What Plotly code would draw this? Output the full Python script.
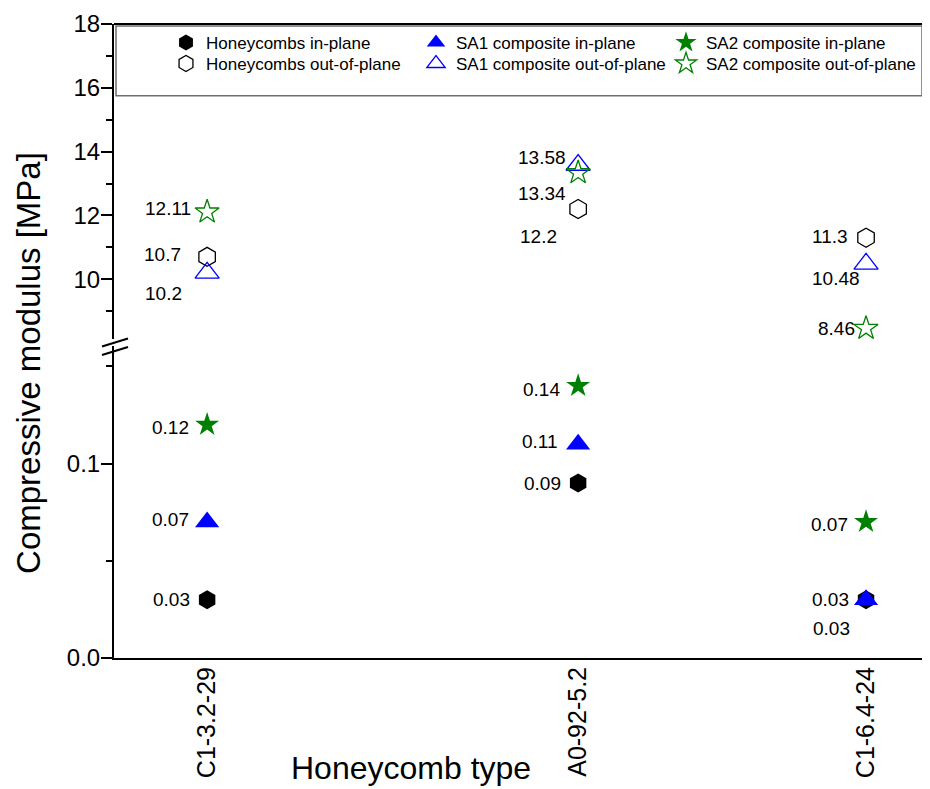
import plotly.graph_objects as go

# ---------------- data ----------------
categories = ["C1-3.2-29", "A0-92-5.2", "C1-6.4-24"]
x_pos = [1.0, 2.0, 2.776]          # category positions along the x axis

hc_in = [0.03, 0.09, 0.03]
sa1_in = [0.07, 0.11, 0.03]
sa2_in = [0.12, 0.14, 0.07]
hc_out = [10.7, 12.2, 11.3]
sa1_out = [10.2, 13.58, 10.48]
sa2_out = [12.11, 13.34, 8.46]

lower_ticks = [0.0, 0.1]
lower_minor = [0.05, 0.15]
upper_ticks = [10, 12, 14, 16, 18]

series_names = [
    "Honeycombs in-plane", "SA1 composite in-plane", "SA2 composite in-plane",
    "Honeycombs out-of-plane", "SA1 composite out-of-plane", "SA2 composite out-of-plane",
]
series_values = [hc_in, sa1_in, sa2_in, hc_out, sa1_out, sa2_out]

# ---------------- styles ----------------
FONT = "Liberation Sans, Arial, sans-serif"
GREEN = "#008000"
styles = [
    dict(symbol="hexagon", color="black", size=19, axis="y", legend="legend"),
    dict(symbol="triangle-up", color="#0000ff", size=21, axis="y", legend="legend"),
    dict(symbol="star", color=GREEN, size=18, axis="y", legend="legend"),
    dict(symbol="hexagon-open", color="black", size=19, axis="y2", legend="legend2"),
    dict(symbol="triangle-up-open", color="#0000ff", size=21, axis="y2", legend="legend2"),
    dict(symbol="star-open", color=GREEN, size=18, axis="y2", legend="legend2"),
]
# label pixel offsets (dx, dy) relative to each marker, text right-aligned
label_offsets = [
    [(-15, 0), (-15, 0), (-14, -29)],
    [(-16, 2), (-18, 3), (-15, 0)],
    [(-16, -3), (-16, -4), (-16, -3)],
    [(-24, 2), (-19, -27), (-16, 1)],
    [(-23, -21), (-10, 8), (-4, -15)],
    [(-14, 3), (-10, -21), (-9, 0)],
]

fig = go.Figure()
for name, vals, st in zip(series_names, series_values, styles):
    open_ = st["symbol"].endswith("open")
    fig.add_trace(go.Scatter(
        x=x_pos, y=vals, name=name, mode="markers", yaxis=st["axis"],
        cliponaxis=False, legend=st["legend"],
        marker=dict(symbol=st["symbol"], size=st["size"], color=st["color"],
                    line=dict(color=st["color"], width=1.3 if open_ else 0)),
    ))

annotations = []
for vals, st, offs in zip(series_values, styles, label_offsets):
    for xv, yv, (dx, dy) in zip(x_pos, vals, offs):
        annotations.append(dict(
            x=xv, y=yv, xref="x", yref=st["axis"], text=f"{yv:g}",
            showarrow=False, xanchor="right", yanchor="middle",
            xshift=dx, yshift=dy, font=dict(family=FONT, size=19, color="black"),
        ))

# page offset: the html body adds an 8px margin
OFF = 8
W, H = 930 - OFF, 789 - OFF
ML, MR, MT, MB = 114 - OFF, 2, 22 - OFF, 131
PW, PH = W - ML - MR, H - MT - MB


def py(pix):
    return (658 - pix) / PH


def px(pix):
    return (pix - 114) / PW


# axis titles
annotations.append(dict(text="Compressive modulus [MPa]", textangle=-90,
                        xref="paper", yref="paper", x=px(29), y=py(362),
                        showarrow=False, xanchor="center", yanchor="middle",
                        font=dict(family=FONT, size=33, color="black")))
annotations.append(dict(text="Honeycomb type", xref="paper", yref="paper",
                        x=px(411), y=py(768), showarrow=False,
                        xanchor="center", yanchor="middle",
                        font=dict(family=FONT, size=32, color="black")))

lower_top = py(345)
upper_bot = py(338)

shapes = [
    # top frame line
    dict(type="line", xref="paper", yref="paper", x0=0, x1=1.003, y0=1, y1=1,
         line=dict(color="black", width=2)),
    # legend box
    dict(type="rect", xref="paper", yref="paper", x0=px(116), x1=px(922),
         y0=py(94), y1=py(24), line=dict(color="#6e6e6e", width=1.5),
         fillcolor="rgba(0,0,0,0)"),
    # axis break slashes
    dict(type="line", xref="paper", yref="paper", xsizemode="pixel", xanchor=0,
         ysizemode="pixel", yanchor=py(341.5), x0=-12, x1=14, y0=-4, y1=4,
         line=dict(color="black", width=2)),
    dict(type="line", xref="paper", yref="paper", xsizemode="pixel", xanchor=0,
         ysizemode="pixel", yanchor=py(350), x0=-12, x1=14, y0=-4, y1=4,
         line=dict(color="black", width=2)),
]

legend_common = dict(orientation="h", xanchor="left", yanchor="top",
                     entrywidth=205, font=dict(family=FONT, size=17, color="black"),
                     bgcolor="rgba(0,0,0,0)", borderwidth=0)

tickfont = dict(family=FONT, size=24, color="black")
fig.update_layout(
    width=W, height=H, margin=dict(l=ML, r=MR, t=MT, b=MB),
    paper_bgcolor="white", plot_bgcolor="white",
    font=dict(family=FONT, color="black"),
    showlegend=True,
    legend=dict(x=px(166), y=py(23), **legend_common),
    legend2=dict(x=px(166), y=py(44), **legend_common),
    xaxis=dict(range=[0.749, 2.943], tickvals=x_pos, ticktext=categories,
               tickangle=-90, tickfont=dict(family=FONT, size=25, color="black"),
               showline=True, linecolor="black", ticklabelstandoff=-3,
               linewidth=2, ticks="", ticklen=0, showgrid=False, zeroline=False,
               anchor="y"),
    yaxis=dict(domain=[0, lower_top], range=[0, 0.1605], tickvals=lower_ticks,
               tickformat=".1f", tickfont=tickfont, showline=True, linecolor="black",
               ticklabelstandoff=-4,
               linewidth=2, ticks="outside", ticklen=11, tickwidth=2, tickcolor="black",
               minor=dict(tickvals=lower_minor, ticks="outside", ticklen=6,
                          tickwidth=2, tickcolor="black"),
               showgrid=False, zeroline=False, anchor="x"),
    yaxis2=dict(domain=[upper_bot, 1], range=[8.125, 18], tickvals=upper_ticks,
                tickfont=tickfont, showline=True, linecolor="black",
                ticklabelstandoff=-4,
                linewidth=2, ticks="outside", ticklen=11, tickwidth=2, tickcolor="black",
                minor=dict(dtick=1, ticks="outside", ticklen=6, tickwidth=2,
                           tickcolor="black"),
                showgrid=False, zeroline=False, anchor="x"),
    shapes=shapes, annotations=annotations,
)

fig.write_html("out.html")
